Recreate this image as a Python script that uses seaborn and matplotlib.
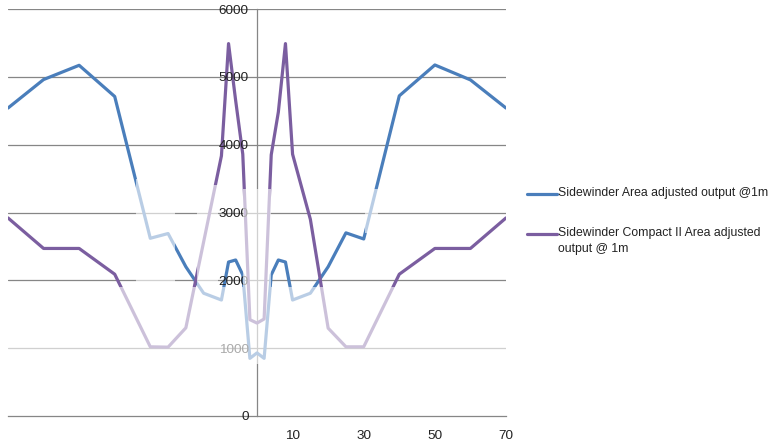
import matplotlib
matplotlib.use("Agg")
import matplotlib.pyplot as plt
import seaborn as sns
import pandas as pd
from matplotlib.patches import Rectangle
from matplotlib.lines import Line2D

# ---- data ----
blue_x = [-70, -60, -50, -40, -30, -25, -20, -15, -10, -8, -6, -4, -2, 0,
          2, 4, 6, 8, 10, 15, 20, 25, 30, 40, 50, 60, 70]
blue_y = [4540, 4960, 5170, 4710, 2620, 2690, 2200, 1810, 1710, 2270, 2300, 2080, 850, 930,
          850, 2080, 2300, 2270, 1710, 1810, 2200, 2700, 2610, 4720, 5175, 4955, 4540]

purple_x = [-70, -60, -50, -40, -30, -25, -20, -10, -8, -6, -4, -2, 0,
            2, 4, 6, 8, 10, 15, 20, 25, 30, 40, 50, 60, 70]
purple_y = [2920, 2470, 2470, 2090, 1020, 1015, 1300, 3835, 5490, 4650, 3860, 1420, 1370,
            1430, 3850, 4480, 5490, 3860, 2900, 1295, 1020, 1020, 2090, 2470, 2470, 2920]

series_names = ["Sidewinder Area adjusted output @1m",
                "Sidewinder Compact II Area adjusted\noutput @ 1m"]
x_ticks = [-70, -50, -30, -10, 10, 30, 50, 70]
x_tick_labels = ["", "", "", "", "10", "30", "50", "70"]
y_ticks = [0, 1000, 2000, 3000, 4000, 5000, 6000]

colors = ["#4A7EBB", "#7B5EA0"]

df = pd.concat([
    pd.DataFrame({"x": blue_x, "y": blue_y, "series": series_names[0]}),
    pd.DataFrame({"x": purple_x, "y": purple_y, "series": series_names[1]}),
], ignore_index=True)

sns.set_style("white")
plt.rcParams["font.family"] = ["Liberation Sans", "DejaVu Sans"]

fig = plt.figure(figsize=(7.76, 4.43), dpi=100)
ax = fig.add_axes([8 / 776, 27 / 443, (506 - 8) / 776, (416 - 9) / 443])

sns.lineplot(data=df, x="x", y="y", hue="series", palette=colors, sort=False,
             estimator=None, linewidth=2.3, ax=ax, legend=False, zorder=3)

ax.set_xlim(-70, 70)
ax.set_ylim(0, 6000)
ax.set_xlabel("")
ax.set_ylabel("")

grid_c = "#868686"
for yv in y_ticks[1:]:
    ax.axhline(yv, color=grid_c, lw=0.9, zorder=1)

for s in ["top", "right"]:
    ax.spines[s].set_visible(False)
ax.spines["left"].set_position(("data", 0))
ax.spines["left"].set_color(grid_c)
ax.spines["left"].set_linewidth(0.9)
ax.spines["bottom"].set_color(grid_c)
ax.spines["bottom"].set_linewidth(0.9)

ax.set_yticks(y_ticks)
ax.set_yticklabels([str(v) for v in y_ticks])
ax.tick_params(axis="y", length=0, pad=6, labelsize=9.7, labelcolor="#222222")
ax.set_xticks(x_ticks)
ax.set_xticklabels(x_tick_labels)
ax.tick_params(axis="x", direction="out", length=4, width=0.9, color=grid_c,
               labelsize=9.7, labelcolor="#222222", pad=6)
ax.set_axisbelow(False)
ax.yaxis.set_zorder(5)

# translucent watermark-like overlay (faded regions in the reference)
for (x0, x1, y0, y1) in [(-70, 70, 760, 1900), (-34, -23, 1900, 3500),
                         (-17, -11, 1900, 3400), (-3.8, 3.8, 1900, 3350),
                         (30.5, 34, 2700, 3350)]:
    ax.add_patch(Rectangle((x0, y0), x1 - x0, y1 - y0, facecolor="white",
                           edgecolor="none", alpha=0.62, zorder=10))

# legend drawn manually (handle aligned with first text line)
W, H = 776, 443
leg_rows = [(194, series_names[0], colors[0]), (234, series_names[1], colors[1])]
for ypix, label, col in leg_rows:
    fig.add_artist(Line2D([527 / W, 557 / W], [1 - ypix / H, 1 - ypix / H],
                          color=col, lw=2.3, transform=fig.transFigure))
    fig.text(558 / W, 1 - (ypix - 7) / H, label, ha="left", va="top",
             fontsize=8.85, color="#222222", linespacing=1.4)

fig.savefig("out.png", dpi=100)
